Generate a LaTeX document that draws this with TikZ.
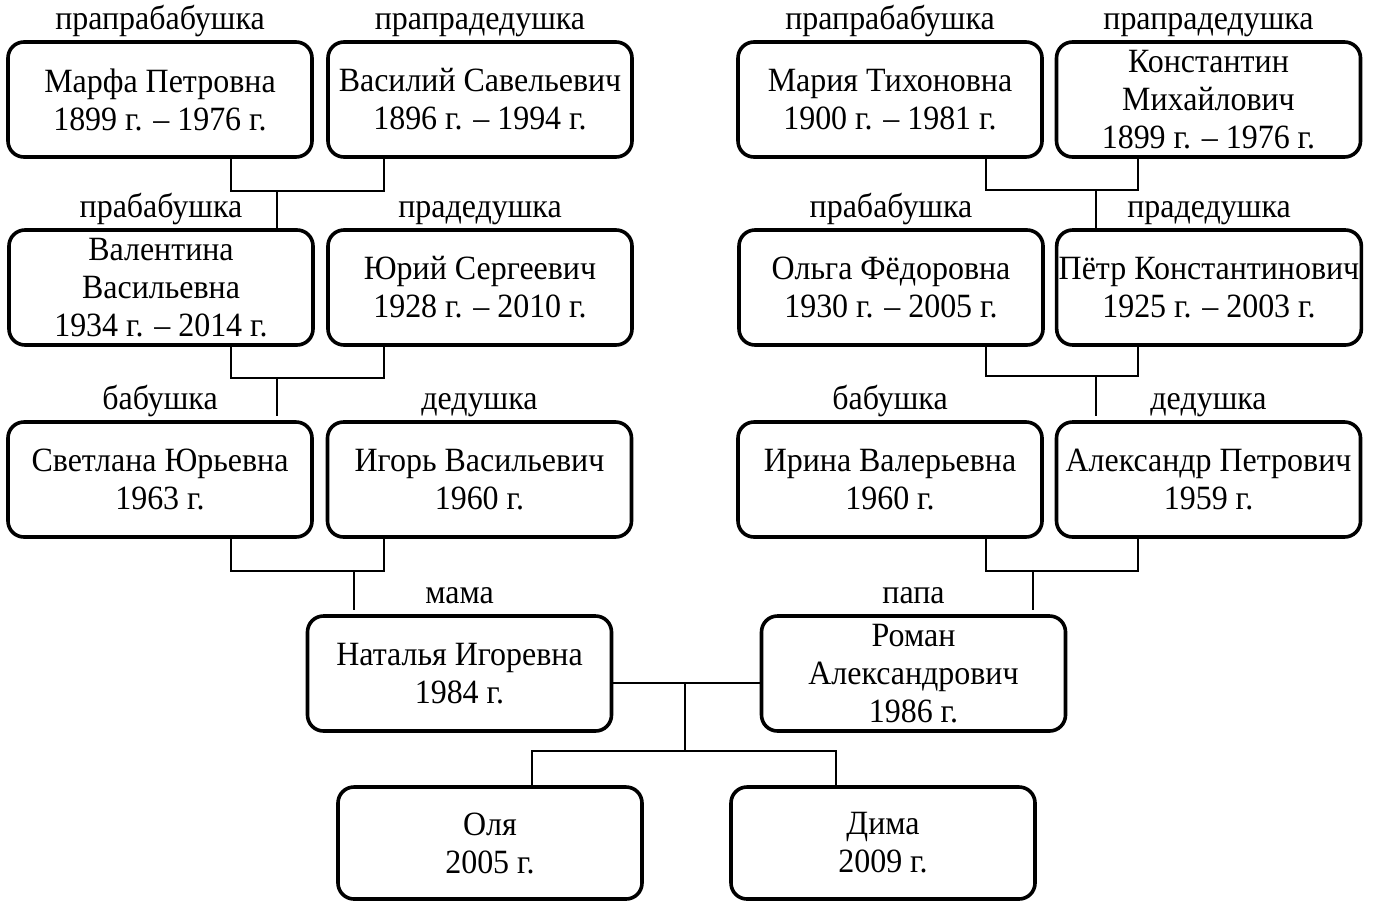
\documentclass[tikz,border=0pt]{standalone}
\usepackage{fontspec}
\setmainfont{Liberation Serif}[FakeStretch=0.94]
\usetikzlibrary{positioning,calc}

\def\boxw{152pt}
\def\boxh{57.5pt}

\begin{document}
\begin{tikzpicture}[x=0.5pt,y=-0.5pt,line width=1.2pt,
    every node/.style={font=\fontsize{17}{19}\selectfont}]
            \tikzstyle{person}=[draw,line width=1.8pt,rounded corners=8pt,minimum width=\boxw,minimum height=\boxh,align=center,inner sep=1pt]
            \tikzstyle{annot}=[inner sep=0pt,text height=12pt,text depth=4pt,node distance=39.25pt]
            \tikzstyle{drop}=[shorten >=2pt]

            \useasboundingbox (0,0) rectangle (1374,900);

            % Great-great-grandparents
            \node[person] (ppb1) at (160,99.5) {Марфа Петровна\\1899 г. – 1976 г.};
            \node[person] (ppd1) at (480,99.5) {Василий Савельевич\\1896 г. – 1994 г.};
            \node[person] (ppb2) at (890,99.5) {Мария Тихоновна\\1900 г. – 1981 г.};
            \node[person] (ppd2) at (1208.5,99.5) {Константин\\Михайлович\\1899 г. – 1976 г.};

            % Great-grandparents
            \node[person] (pb1) at (161,287.5) {Валентина\\Васильевна\\1934 г. – 2014 г.};
            \node[person] (pd1) at (480,287.5) {Юрий Сергеевич\\1928 г. – 2010 г.};
            \node[person] (pb2) at (891,287.5) {Ольга Фёдоровна\\1930 г. – 2005 г.};
            \node[person] (pd2) at (1209,287.5) {Пётр Константинович\\1925 г. – 2003 г.};

            % Grandparents
            \node[person] (b1) at (160,479.5) {Светлана Юрьевна\\1963 г.};
            \node[person] (d1) at (479.5,479.5) {Игорь Васильевич\\1960 г.};
            \node[person] (b2) at (890,479.5) {Ирина Валерьевна\\1960 г.};
            \node[person] (d2) at (1208.5,479.5) {Александр Петрович\\1959 г.};

            % Parents
            \node[person] (mama) at (459.5,673.5) {Наталья Игоревна\\1984 г.};
            \node[person] (papa) at (913.5,673.5) {Роман\\Александрович\\1986 г.};

            % Children
            \node[person,minimum height=56pt] (olya) at (490,843) {Оля\\2005 г.};
            \node[person,minimum height=56pt] (dima) at (883,843) {Дима\\2009 г.};

            % Annotate the boxes
            \foreach \name/\role in {ppb1/прапрабабушка,ppd1/прапрадедушка,
                ppb2/прапрабабушка,ppd2/прапрадедушка,
                pb1/прабабушка,pd1/прадедушка,pb2/прабабушка,pd2/прадедушка,
                b1/бабушка,d1/дедушка,b2/бабушка,d2/дедушка,
                mama/мама,papa/папа}
                \node[annot,above of=\name] (r-\name) {\role};

            % Couples and their child
            \coordinate (j1) at (277,191);
            \draw ($(ppb1.south)+(71,0)$) |- (j1) -| ($(ppd1.south)+(-96,0)$);
            \draw (j1) -- (j1 |- pb1.north);

            \coordinate (j2) at (277,378);
            \draw ($(pb1.south)+(70,0)$) |- (j2) -| ($(pd1.south)+(-96,0)$);
            \draw[drop] (j2) -- (j2 |- b1.north);

            \coordinate (j3) at (354,571);
            \draw ($(b1.south)+(71,0)$) |- (j3) -| ($(d1.south)+(-95.5,0)$);
            \draw[drop] (j3) -- (j3 |- mama.north);

            \coordinate (j4) at (1096,190);
            \draw ($(ppb2.south)+(96,0)$) |- (j4) -| ($(ppd2.south)+(-70.5,0)$);
            \draw (j4) -- (j4 |- pd2.north);

            \coordinate (j5) at (1096,376);
            \draw ($(pb2.south)+(95,0)$) |- (j5) -| ($(pd2.south)+(-71,0)$);
            \draw[drop] (j5) -- (j5 |- d2.north);

            \coordinate (j6) at (1033,571);
            \draw ($(b2.south)+(96,0)$) |- (j6) -| ($(d2.south)+(-70.5,0)$);
            \draw[drop] (j6) -- (j6 |- papa.north);

            % Mama and papa, and the children
            \coordinate (wed) at (685,683);
            \coordinate (kids) at (685,751);
            \draw (mama.east |- wed) -- (papa.west |- wed);
            \draw (wed) -- (kids);
            \draw ($(olya.north)+(42,0)$) |- (kids) -| ($(dima.north)+(-47,0)$);
        \end{tikzpicture}
\end{document}
